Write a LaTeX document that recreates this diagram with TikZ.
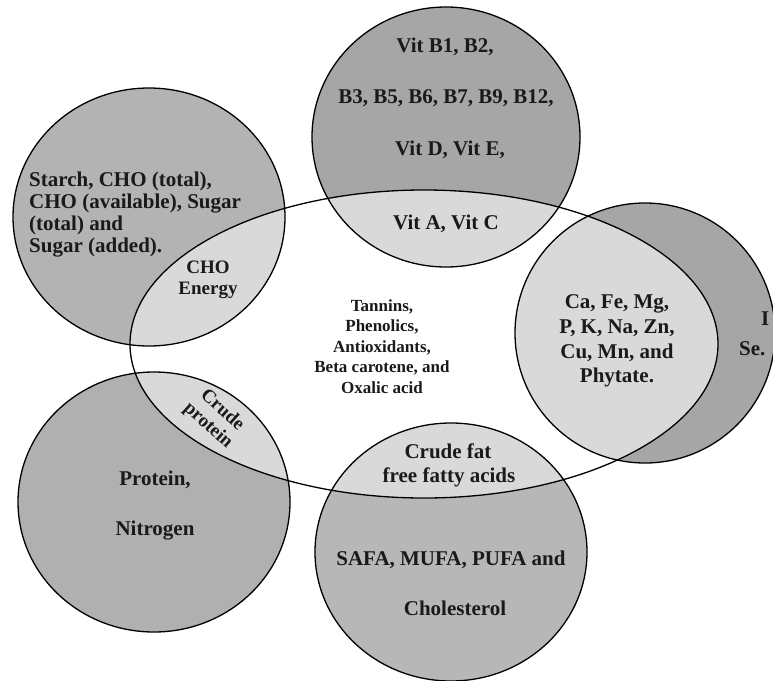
\documentclass[tikz,border=0pt]{standalone}
\usepackage{fontspec}
\setmainfont{Liberation Serif}
\definecolor{cvit}{HTML}{A6A6A6}
\definecolor{ccho}{HTML}{B3B3B3}
\definecolor{cpro}{HTML}{B0B0B0}
\definecolor{cfat}{HTML}{B7B7B7}
\definecolor{cmin}{HTML}{A6A6A6}
\definecolor{clight}{HTML}{D9D9D9}
\definecolor{ctext}{HTML}{1A1A1A}
\begin{document}
\begin{tikzpicture}[x=1pt,y=-1pt,
  outline/.style={draw=black,line width=1.3pt},
  big/.style={font=\bfseries\fontsize{21}{25}\selectfont,text=ctext,inner sep=0pt},
  mid/.style={font=\bfseries\fontsize{19}{21}\selectfont,text=ctext,inner sep=0pt},
  small/.style={font=\bfseries\fontsize{17}{20}\selectfont,text=ctext,inner sep=0pt}]
\useasboundingbox (0,0) rectangle (773,680);
\def\vitc{(446,137) ellipse [x radius=134pt, y radius=130pt]}
\def\choc{(149,217) ellipse [x radius=136pt, y radius=129pt]}
\def\proc{(154,502) ellipse [x radius=136pt, y radius=130pt]}
\def\fatc{(451,552) ellipse [x radius=136pt, y radius=129pt]}
\def\minc{(645,333) ellipse [x radius=130pt, y radius=130pt]}
\def\cent{(424,344) ellipse [x radius=294pt, y radius=154pt]}
% dark fills
\fill[cvit] \vitc;
\fill[ccho] \choc;
\fill[cpro] \proc;
\fill[cfat] \fatc;
\fill[cmin] \minc;
% white central ellipse
\fill[white] \cent;
% light intersections
\begin{scope}
  \clip \cent;
  \fill[clight] \vitc;
  \fill[clight] \choc;
  \fill[clight] \proc;
  \fill[clight] \fatc;
  \fill[clight] \minc;
\end{scope}
% outlines
\draw[outline] \vitc;
\draw[outline] \choc;
\draw[outline] \proc;
\draw[outline] \fatc;
\draw[outline] \minc;
\draw[outline] \cent;
% carbohydrates
\node[big,anchor=base west] (cho1) at (29,186) {Starch, CHO (total),};
\node[big,anchor=base west] (cho2) at (29,208) {CHO (available), Sugar};
\node[big,anchor=base west] (cho3) at (29,230) {(total) and};
\node[big,anchor=base west] (cho4) at (29,252) {Sugar (added).};
\node[mid,anchor=base] (choe1) at (208,273) {CHO};
\node[mid,anchor=base] (choe2) at (208,294) {Energy};
% vitamins
\node[big,anchor=base] (vit1) at (445,52) {Vit B1, B2,};
\node[big,anchor=base] (vit2) at (446,103) {B3, B5, B6, B7, B9, B12,};
\node[big,anchor=base] (vit3) at (450,155) {Vit D, Vit E,};
\node[big,anchor=base] (vit4) at (446,229) {Vit A, Vit C};
% centre
\node[small,anchor=base] (c1) at (382,311) {Tannins,};
\node[small,anchor=base] (c2) at (382,331) {Phenolics,};
\node[small,anchor=base] (c3) at (382,352) {Antioxidants,};
\node[small,anchor=base] (c4) at (382,372) {Beta carotene, and};
\node[small,anchor=base] (c5) at (382,393) {Oxalic acid};
% minerals
\node[big,anchor=base] (m1) at (617,308) {Ca, Fe, Mg,};
\node[big,anchor=base] (m2) at (617,333) {P, K, Na, Zn,};
\node[big,anchor=base] (m3) at (617,358) {Cu, Mn, and};
\node[big,anchor=base] (m4) at (617,382) {Phytate.};
\node[big,anchor=base west] (m5) at (761,325) {I};
\node[big,anchor=base west] (m6) at (739,355) {Se.};
% protein
\node[big,anchor=base] (p1) at (155,485) {Protein,};
\node[big,anchor=base] (p2) at (155,535) {Nitrogen};
\node[mid,align=center,rotate=-42] (p3) at (215,418) {Crude\\protein};
% fat
\node[big,anchor=base] (f1) at (448,458) {Crude fat};
\node[big,anchor=base] (f2) at (449,482) {free fatty acids};
\node[big,anchor=base] (f3) at (451,565) {SAFA, MUFA, PUFA and};
\node[big,anchor=base] (f4) at (455,615) {Cholesterol};
\end{tikzpicture}
\end{document}
